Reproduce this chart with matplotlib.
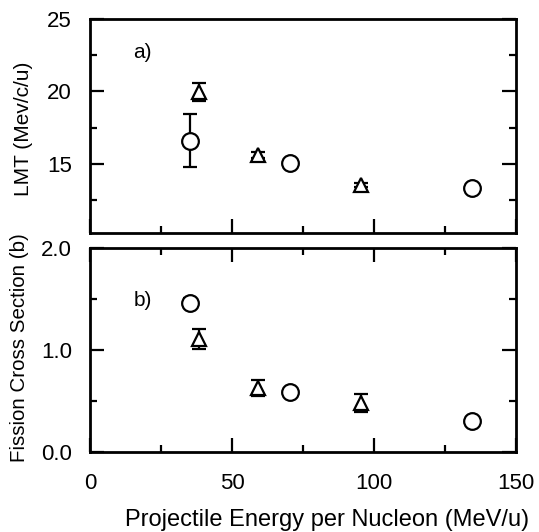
import matplotlib.pyplot as plt
from matplotlib.ticker import MultipleLocator

plt.rcParams['font.family'] = ['Liberation Sans', 'DejaVu Sans']

# circles and triangles: two data sets, energies in MeV/u
circ_e = [35.2, 70.4, 134.7]
circ_lmt = [16.6, 15.05, 13.3]
circ_lmt_err = [1.85, 0.0, 0.0]
circ_sig = [1.46, 0.59, 0.31]
circ_sig_err = [0.05, 0.02, 0.03]

tri_e = [38.4, 59.3, 95.6]
tri_lmt = [19.95, 15.6, 13.5]
tri_lmt_err = [0.6, 0.2, 0.15]
tri_sig = [1.11, 0.63, 0.48]
tri_sig_err = [0.1, 0.08, 0.09]

fig = plt.figure(figsize=(5.39, 5.32), dpi=100)
ax1 = fig.add_axes([0.167, 0.562, 0.790, 0.402])
ax2 = fig.add_axes([0.167, 0.150, 0.790, 0.384])

def draw(ax, x, y, e, mk, ms):
    ax.errorbar(x, y, yerr=e, fmt=mk, ms=ms, mfc='white', mec='black',
                mew=1.6, ecolor='black', elinewidth=1.6, capsize=5, capthick=1.6)

draw(ax1, circ_e, circ_lmt, circ_lmt_err, 'o', 12)
draw(ax1, tri_e, tri_lmt, tri_lmt_err, '^', 10)
draw(ax2, circ_e, circ_sig, circ_sig_err, 'o', 12)
draw(ax2, tri_e, tri_sig, tri_sig_err, '^', 10)

ax1.set_ylim(10.2, 25)
ax1.yaxis.set_major_locator(MultipleLocator(5))
ax1.yaxis.set_minor_locator(MultipleLocator(2.5))
ax2.set_ylim(0, 2)
ax2.yaxis.set_major_locator(MultipleLocator(1))
ax2.yaxis.set_minor_locator(MultipleLocator(0.5))
ax2.yaxis.set_major_formatter(plt.FormatStrFormatter('%.1f'))

for ax in (ax1, ax2):
    ax.set_xlim(0, 150)
    ax.xaxis.set_major_locator(MultipleLocator(50))
    ax.xaxis.set_minor_locator(MultipleLocator(25))
    for s in ax.spines.values():
        s.set_linewidth(2)
    ax.tick_params(which='both', direction='in', right=True, width=1.6,
                   labelsize=16)
    ax.tick_params(axis='y', pad=13)
    ax.tick_params(axis='x', pad=15)
    ax.tick_params(which='major', length=10)
    ax.tick_params(which='minor', length=5)

ax1.tick_params(which='both', top=False, labelbottom=False)
ax1.set_yticks([15, 20, 25])
ax2.tick_params(which='both', top=True)

ax1.text(18.5, 22.7, 'a)', fontsize=15, ha='center', va='center')
ax2.text(18.5, 1.49, 'b)', fontsize=15, ha='center', va='center')

fig.text(0.043, 0.757, 'LMT (Mev/c/u)', rotation=90, fontsize=15,
         ha='center', va='center')
fig.text(0.037, 0.347, 'Fission Cross Section (b)', rotation=90, fontsize=14.8,
         ha='center', va='center')
fig.text(0.607, 0.022, 'Projectile Energy per Nucleon (MeV/u)', fontsize=17,
         ha='center', va='center')

fig.savefig('out.png', dpi=100)
